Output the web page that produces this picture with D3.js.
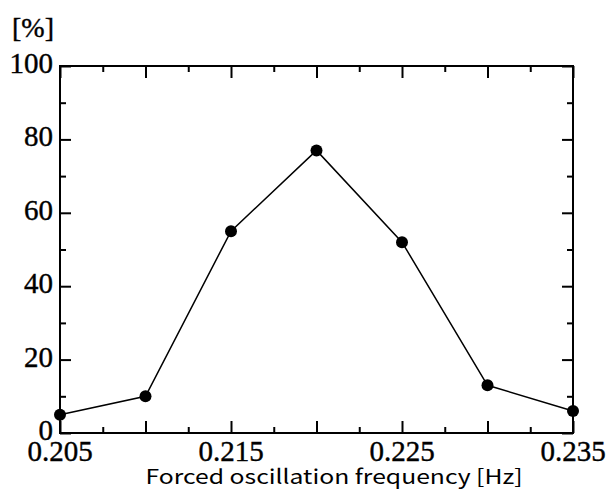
<!DOCTYPE html>
<html>
<head>
<meta charset="utf-8">
<script src="https://cdn.jsdelivr.net/npm/d3@7"></script>
<style>
  body { margin: 0; background: #fff; }
  svg { display: block; }
</style>
</head>
<body>
<script>
const freqs = [0.205, 0.21, 0.215, 0.22, 0.225, 0.23, 0.235];
const percents = [5, 10, 55, 77, 52, 13, 6];
const xLabelTicks = [0.205, 0.215, 0.225, 0.235];
const xMajorTicks = [0.205, 0.21, 0.215, 0.22, 0.225, 0.23, 0.235];
const xMinorTicks = [0.2075, 0.2125, 0.2175, 0.2225, 0.2275, 0.2325];
const yMajorTicks = [0, 20, 40, 60, 80, 100];
const yMinorTicks = [10, 30, 50, 70, 90];

const W = 606;
const H = 489;
const L = 60;
const R = 573;
const T = 66;
const B = 433;

const svg = d3.select("body")
  .append("svg")
  .attr("width", W)
  .attr("height", H);

const x = d3.scaleLinear().domain([0.205, 0.235]).range([L, R]);
const y = d3.scaleLinear().domain([0, 100]).range([B, T]);

// inward ticks on all four sides
function tickAxis(axis, scale, vals, size, tr) {
  svg.append("g")
    .attr("transform", tr)
    .call(axis(scale).tickValues(vals).tickSize(-size).tickFormat(""))
    .call(g => g.select(".domain").remove())
    .selectAll("line").attr("stroke", "#000").attr("stroke-width", 2);
}
tickAxis(d3.axisBottom, x, xMajorTicks, 12, `translate(0,${B})`);
tickAxis(d3.axisBottom, x, xMinorTicks, 6, `translate(0,${B})`);
tickAxis(d3.axisTop, x, xMajorTicks, 12, `translate(0,${T})`);
tickAxis(d3.axisTop, x, xMinorTicks, 6, `translate(0,${T})`);
tickAxis(d3.axisLeft, y, yMajorTicks, 11, `translate(${L},0)`);
tickAxis(d3.axisLeft, y, yMinorTicks, 6, `translate(${L},0)`);
tickAxis(d3.axisRight, y, yMajorTicks, 11, `translate(${R},0)`);
tickAxis(d3.axisRight, y, yMinorTicks, 6, `translate(${R},0)`);

svg.append("rect")
  .attr("x", L)
  .attr("y", T)
  .attr("width", R - L)
  .attr("height", B - T)
  .attr("fill", "none")
  .attr("stroke", "#000")
  .attr("stroke-width", 2);

const serif = '"Liberation Serif"';

svg.selectAll(".ylab")
  .data(yMajorTicks)
  .enter()
  .append("text")
  .attr("class", "ylab")
  .attr("x", L - 7)
  .attr("y", d => y(d) + 7)
  .attr("text-anchor", "end")
  .style("font-family", serif)
  .style("font-size", "29px")
  .attr("stroke", "#000")
  .attr("stroke-width", 0.4)
  .text(d => d);

svg.selectAll(".xlab")
  .data(xLabelTicks)
  .enter()
  .append("text")
  .attr("class", "xlab")
  .attr("x", d => x(d))
  .attr("y", B + 28)
  .attr("text-anchor", "middle")
  .style("font-family", serif)
  .style("font-size", "29px")
  .attr("stroke", "#000")
  .attr("stroke-width", 0.4)
  .text(d => d.toFixed(3));

svg.append("text")
  .attr("x", 12)
  .attr("y", 37)
  .style("font-family", serif)
  .style("font-size", "28px")
  .attr("stroke", "#000")
  .attr("stroke-width", 0.4)
  .text("[%]");

svg.append("text")
  .attr("x", 334)
  .attr("y", 484)
  .attr("text-anchor", "middle")
  .attr("textLength", 377)
  .attr("lengthAdjust", "spacingAndGlyphs")
  .style("font-family", '"Noto Sans CJK JP"')
  .style("font-size", "20px")
  .text("Forced oscillation frequency [Hz]");

const line = d3.line()
  .x((d, i) => x(freqs[i]))
  .y(d => y(d));

svg.append("path")
  .datum(percents)
  .attr("d", line)
  .attr("fill", "none")
  .attr("stroke", "#000")
  .attr("stroke-width", 1.5);

svg.selectAll(".pt")
  .data(percents)
  .enter()
  .append("circle")
  .attr("class", "pt")
  .attr("cx", (d, i) => x(freqs[i]))
  .attr("cy", d => y(d))
  .attr("r", 6)
  .attr("fill", "#000");
</script>
</body>
</html>
